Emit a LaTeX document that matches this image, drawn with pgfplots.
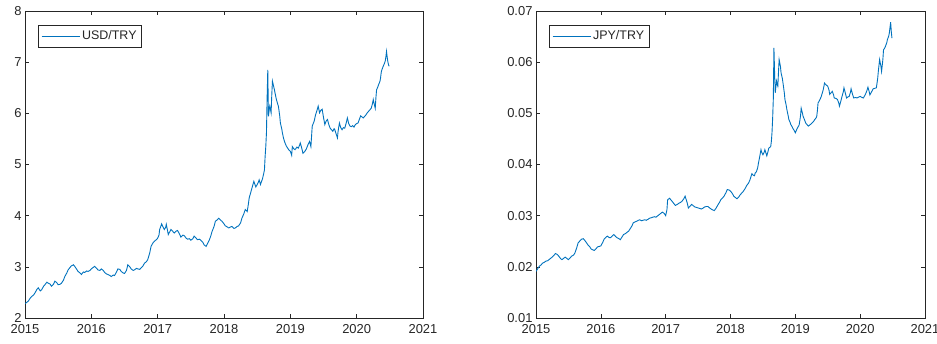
\documentclass[border=0pt]{standalone}
\usepackage{pgfplots}
\pgfplotsset{compat=1.18}
\usepackage{pgfplotstable}
\usepackage{fontspec}
\setmainfont{Liberation Sans}
\definecolor{mblue}{rgb}{0,0.447,0.741}
\definecolor{mgray}{HTML}{262626}

\pgfplotstableread{
x y
2015.00 2.28
2015.03 2.31
2015.05 2.33
2015.08 2.39
2015.10 2.42
2015.13 2.45
2015.15 2.49
2015.18 2.56
2015.20 2.59
2015.23 2.53
2015.25 2.55
2015.28 2.62
2015.30 2.65
2015.33 2.70
2015.35 2.68
2015.38 2.66
2015.40 2.62
2015.43 2.66
2015.45 2.72
2015.48 2.69
2015.50 2.65
2015.53 2.66
2015.55 2.68
2015.58 2.74
2015.60 2.81
2015.63 2.88
2015.65 2.94
2015.68 2.99
2015.70 3.02
2015.73 3.04
2015.75 3.01
2015.78 2.95
2015.80 2.91
2015.83 2.88
2015.85 2.85
2015.88 2.90
2015.90 2.89
2015.93 2.92
2015.95 2.91
2015.98 2.93
2016.00 2.96
2016.03 2.99
2016.05 3.01
2016.08 2.97
2016.10 2.94
2016.13 2.93
2016.15 2.96
2016.18 2.93
2016.20 2.89
2016.23 2.86
2016.25 2.85
2016.28 2.83
2016.30 2.81
2016.33 2.84
2016.35 2.83
2016.38 2.90
2016.40 2.96
2016.43 2.95
2016.45 2.91
2016.48 2.88
2016.50 2.87
2016.53 2.93
2016.55 3.04
2016.58 3.00
2016.60 2.96
2016.63 2.93
2016.65 2.94
2016.68 2.97
2016.70 2.96
2016.73 2.95
2016.75 2.98
2016.78 3.02
2016.80 3.07
2016.83 3.10
2016.85 3.14
2016.88 3.27
2016.90 3.40
2016.93 3.47
2016.95 3.50
2016.98 3.53
2017.00 3.56
2017.02 3.62
2017.03 3.73
2017.05 3.80
2017.06 3.84
2017.08 3.78
2017.10 3.73
2017.12 3.77
2017.13 3.83
2017.15 3.70
2017.16 3.63
2017.18 3.68
2017.20 3.73
2017.23 3.69
2017.25 3.66
2017.28 3.70
2017.30 3.71
2017.33 3.64
2017.35 3.58
2017.38 3.62
2017.40 3.61
2017.43 3.56
2017.45 3.54
2017.48 3.55
2017.50 3.52
2017.53 3.55
2017.55 3.60
2017.58 3.56
2017.60 3.53
2017.63 3.54
2017.65 3.52
2017.68 3.48
2017.70 3.43
2017.73 3.40
2017.75 3.45
2017.78 3.53
2017.80 3.60
2017.82 3.69
2017.85 3.79
2017.87 3.89
2017.90 3.92
2017.92 3.95
2017.95 3.91
2017.97 3.89
2018.00 3.84
2018.02 3.80
2018.05 3.78
2018.07 3.76
2018.10 3.78
2018.12 3.79
2018.15 3.75
2018.17 3.76
2018.20 3.79
2018.22 3.80
2018.25 3.86
2018.27 3.95
2018.30 4.04
2018.32 4.12
2018.35 4.08
2018.37 4.25
2018.38 4.35
2018.40 4.44
2018.43 4.58
2018.45 4.67
2018.48 4.56
2018.50 4.61
2018.52 4.66
2018.53 4.70
2018.55 4.61
2018.58 4.72
2018.60 4.83
2018.61 4.90
2018.62 5.16
2018.63 5.35
2018.64 5.62
2018.65 6.30
2018.66 6.85
2018.67 5.94
2018.68 6.05
2018.69 6.14
2018.70 6.08
2018.71 6.01
2018.72 6.35
2018.73 6.63
2018.75 6.52
2018.76 6.46
2018.78 6.33
2018.79 6.27
2018.81 6.18
2018.82 6.14
2018.84 5.95
2018.85 5.81
2018.87 5.70
2018.88 5.62
2018.90 5.50
2018.92 5.42
2018.94 5.36
2018.96 5.32
2018.98 5.28
2019.00 5.26
2019.02 5.18
2019.03 5.35
2019.05 5.31
2019.07 5.29
2019.10 5.34
2019.12 5.32
2019.14 5.38
2019.15 5.42
2019.17 5.33
2019.19 5.22
2019.22 5.26
2019.24 5.30
2019.27 5.40
2019.29 5.45
2019.30 5.40
2019.31 5.35
2019.32 5.55
2019.33 5.75
2019.36 5.85
2019.38 5.97
2019.40 6.05
2019.42 6.14
2019.43 6.08
2019.44 6.01
2019.46 6.06
2019.48 6.08
2019.50 5.92
2019.52 5.78
2019.54 5.85
2019.56 5.88
2019.58 5.78
2019.60 5.71
2019.62 5.68
2019.64 5.65
2019.66 5.70
2019.67 5.68
2019.69 5.60
2019.71 5.52
2019.72 5.65
2019.74 5.81
2019.76 5.72
2019.78 5.68
2019.80 5.72
2019.82 5.71
2019.84 5.80
2019.86 5.91
2019.88 5.80
2019.90 5.75
2019.92 5.74
2019.94 5.76
2019.96 5.73
2019.98 5.78
2020.00 5.80
2020.02 5.81
2020.04 5.88
2020.06 5.95
2020.08 5.93
2020.10 5.91
2020.12 5.94
2020.14 5.97
2020.16 6.01
2020.18 6.04
2020.20 6.07
2020.22 6.10
2020.24 6.20
2020.25 6.27
2020.27 6.15
2020.28 6.10
2020.29 6.30
2020.30 6.46
2020.32 6.52
2020.33 6.56
2020.35 6.62
2020.36 6.69
2020.37 6.80
2020.38 6.85
2020.40 6.92
2020.42 6.98
2020.43 7.02
2020.44 7.10
2020.45 7.21
2020.46 7.10
2020.47 7.01
2020.48 6.95
2020.49 6.92
}\usdtry

\pgfplotstableread{
x y
2015.00 0.0191
2015.03 0.0197
2015.05 0.0201
2015.08 0.0204
2015.10 0.0207
2015.13 0.0209
2015.15 0.0211
2015.18 0.0212
2015.20 0.0214
2015.23 0.0217
2015.25 0.0219
2015.28 0.0223
2015.30 0.0226
2015.33 0.0224
2015.35 0.0221
2015.38 0.0216
2015.40 0.0214
2015.43 0.0217
2015.45 0.0219
2015.48 0.0216
2015.50 0.0214
2015.53 0.0218
2015.55 0.0221
2015.58 0.0223
2015.60 0.0227
2015.63 0.0238
2015.65 0.0247
2015.68 0.0251
2015.70 0.0254
2015.73 0.0255
2015.75 0.0252
2015.78 0.0247
2015.80 0.0243
2015.83 0.0239
2015.85 0.0235
2015.88 0.0233
2015.90 0.0232
2015.93 0.0236
2015.95 0.0239
2015.98 0.0240
2016.00 0.0241
2016.03 0.0248
2016.05 0.0254
2016.08 0.0258
2016.10 0.0260
2016.13 0.0257
2016.15 0.0257
2016.18 0.0261
2016.20 0.0263
2016.23 0.0259
2016.25 0.0257
2016.28 0.0255
2016.30 0.0253
2016.33 0.0259
2016.35 0.0263
2016.38 0.0265
2016.40 0.0267
2016.43 0.0270
2016.45 0.0274
2016.48 0.0280
2016.50 0.0286
2016.53 0.0288
2016.55 0.0289
2016.58 0.0291
2016.60 0.0292
2016.63 0.0290
2016.65 0.0291
2016.68 0.0292
2016.70 0.0291
2016.73 0.0293
2016.75 0.0295
2016.78 0.0296
2016.80 0.0297
2016.83 0.0298
2016.85 0.0297
2016.88 0.0300
2016.90 0.0302
2016.93 0.0305
2016.95 0.0307
2016.98 0.0304
2017.00 0.0300
2017.02 0.0312
2017.03 0.0331
2017.05 0.0333
2017.06 0.0334
2017.08 0.0331
2017.10 0.0328
2017.13 0.0323
2017.15 0.0320
2017.18 0.0322
2017.20 0.0324
2017.23 0.0326
2017.25 0.0328
2017.28 0.0333
2017.30 0.0338
2017.33 0.0326
2017.35 0.0315
2017.38 0.0319
2017.40 0.0322
2017.43 0.0319
2017.45 0.0317
2017.48 0.0316
2017.50 0.0315
2017.53 0.0314
2017.55 0.0313
2017.58 0.0315
2017.60 0.0317
2017.63 0.0318
2017.65 0.0318
2017.68 0.0315
2017.70 0.0313
2017.73 0.0311
2017.75 0.0310
2017.78 0.0315
2017.80 0.0320
2017.83 0.0326
2017.85 0.0331
2017.88 0.0335
2017.90 0.0338
2017.93 0.0345
2017.95 0.0351
2017.98 0.0350
2018.00 0.0348
2018.03 0.0343
2018.05 0.0338
2018.08 0.0335
2018.10 0.0333
2018.13 0.0337
2018.15 0.0341
2018.18 0.0345
2018.20 0.0348
2018.23 0.0354
2018.25 0.0359
2018.28 0.0364
2018.30 0.0370
2018.33 0.0382
2018.35 0.0379
2018.37 0.0378
2018.38 0.0383
2018.40 0.0386
2018.42 0.0394
2018.43 0.0402
2018.45 0.0415
2018.47 0.0429
2018.48 0.0424
2018.50 0.0419
2018.52 0.0424
2018.53 0.0429
2018.55 0.0421
2018.56 0.0417
2018.58 0.0426
2018.59 0.0432
2018.61 0.0434
2018.62 0.0435
2018.63 0.0445
2018.64 0.0462
2018.65 0.0490
2018.66 0.0527
2018.67 0.0628
2018.68 0.0580
2018.69 0.0540
2018.70 0.0552
2018.71 0.0563
2018.72 0.0557
2018.73 0.0553
2018.74 0.0580
2018.75 0.0605
2018.77 0.0592
2018.78 0.0579
2018.80 0.0568
2018.81 0.0559
2018.83 0.0540
2018.84 0.0527
2018.86 0.0515
2018.87 0.0507
2018.89 0.0495
2018.90 0.0488
2018.92 0.0482
2018.93 0.0478
2018.95 0.0474
2018.96 0.0471
2018.98 0.0467
2019.00 0.0462
2019.02 0.0468
2019.03 0.0471
2019.05 0.0475
2019.06 0.0478
2019.08 0.0495
2019.09 0.0510
2019.11 0.0500
2019.12 0.0494
2019.14 0.0488
2019.16 0.0481
2019.18 0.0478
2019.20 0.0475
2019.23 0.0478
2019.25 0.0480
2019.28 0.0484
2019.30 0.0488
2019.32 0.0491
2019.33 0.0494
2019.34 0.0505
2019.35 0.0520
2019.38 0.0527
2019.40 0.0533
2019.43 0.0546
2019.45 0.0559
2019.47 0.0556
2019.50 0.0553
2019.52 0.0545
2019.53 0.0537
2019.55 0.0540
2019.57 0.0543
2019.59 0.0536
2019.60 0.0530
2019.63 0.0529
2019.65 0.0527
2019.67 0.0520
2019.68 0.0514
2019.70 0.0523
2019.72 0.0533
2019.74 0.0542
2019.75 0.0550
2019.77 0.0540
2019.79 0.0530
2019.81 0.0532
2019.83 0.0533
2019.85 0.0541
2019.86 0.0548
2019.88 0.0538
2019.90 0.0530
2019.93 0.0531
2019.95 0.0530
2019.98 0.0532
2020.00 0.0533
2020.03 0.0531
2020.05 0.0530
2020.08 0.0537
2020.10 0.0543
2020.12 0.0551
2020.14 0.0542
2020.15 0.0536
2020.18 0.0543
2020.20 0.0548
2020.23 0.0549
2020.25 0.0550
2020.27 0.0568
2020.28 0.0582
2020.30 0.0605
2020.32 0.0592
2020.33 0.0582
2020.35 0.0605
2020.36 0.0624
2020.38 0.0628
2020.39 0.0631
2020.41 0.0638
2020.42 0.0644
2020.44 0.0651
2020.45 0.0657
2020.46 0.0668
2020.47 0.0678
2020.48 0.0660
2020.49 0.0647
}\jpytry

\pgfplotsset{
  mstyle/.style={
    scale only axis,
    width=398bp, height=307bp,
    xmin=2015, xmax=2021,
    xtick={2015,2016,...,2021},
    x tick label style={/pgf/number format/1000 sep={}, yshift=-3bp},
    tick align=inside,
    major tick length=4bp,
    axis line style={mgray, line width=0.5pt},
    tick style={mgray, line width=0.5pt},
    ticklabel style={font=\fontsize{13}{15}\selectfont, text=mgray},
    /pgf/number format/assume math mode=true,
    every axis plot/.append style={mblue, line width=0.9pt},
    legend cell align=left,
    legend image code/.code={\draw[#1] (0bp,0bp) -- (38bp,0bp);},
    legend style={at={(0,1)}, anchor=north west, xshift=13bp, yshift=-14bp,
      draw=mgray, line width=0.5pt, font=\fontsize{12.5}{14}\selectfont,
      text=mgray, inner xsep=3bp, inner ysep=3.5bp},
  }
}

\begin{document}
\begin{tikzpicture}
\useasboundingbox (0,0) rectangle (937bp,344bp);
\begin{axis}[mstyle, at={(25bp,26bp)}, anchor=south west,
  ymin=2, ymax=8, ytick={2,3,...,8}]
\addplot[mblue] table[x=x,y=y] {\usdtry};
\addlegendentry{USD/TRY}
\end{axis}
\begin{axis}[mstyle, width=389bp, at={(536bp,26bp)}, anchor=south west,
  ymin=0.01, ymax=0.07, ytick={0.01,0.02,...,0.07},
  scaled y ticks=false,
  yticklabel style={/pgf/number format/fixed, /pgf/number format/precision=2, /pgf/number format/fixed zerofill}]
\addplot[mblue] table[x=x,y=y] {\jpytry};
\addlegendentry{JPY/TRY}
\end{axis}
\end{tikzpicture}
\end{document}
